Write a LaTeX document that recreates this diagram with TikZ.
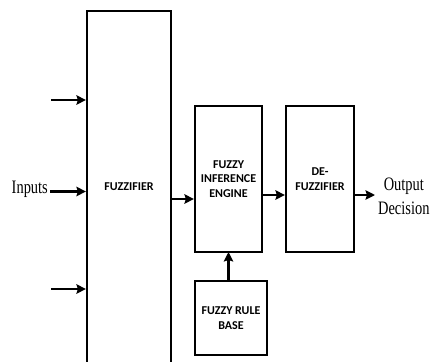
\documentclass[tikz,border=0pt]{standalone}
\usepackage{fontspec}
\setmainfont{Liberation Serif}
\newfontfamily\boxfont{Carlito}
\usetikzlibrary{arrows.meta}
\begin{document}
\begin{tikzpicture}[x=1pt,y=-1pt,
  blk/.style={draw, line width=2.2pt, inner sep=0pt, align=center,
    font=\boxfont\bfseries\fontsize{12}{14.5}\selectfont},
  arr/.style={line width=2.4pt, -{Stealth[length=9.5pt,width=9.5pt,inset=1.5pt]}},
  lbl/.style={font=\fontsize{19}{24}\selectfont, inner sep=0pt, xscale=0.76}]
\useasboundingbox (0,0) rectangle (430,361);
\node[blk, minimum width=84pt, minimum height=352pt] (fz) at (129,187) {FUZZIFIER};
\node[blk, minimum width=67pt, minimum height=146pt] (inf) at (228.5,179) {FUZZY\\INFERENCE\\ENGINE};
\node[blk, minimum width=68pt, minimum height=146pt] (def) at (320,179) {DE-\\FUZZIFIER};
\node[blk, minimum width=72pt, minimum height=74pt] (rb) at (231,318) {FUZZY RULE\\BASE};
\coordinate (i1) at (51,100);
\coordinate (i3) at (51,289);
\node[lbl, anchor=east] (in) at (48,189) {Inputs};
\coordinate (i2) at (50,191.5);
\draw[arr] (i1) -- (i1 -| fz.west);
\draw[arr] (i2) -- (i2 -| fz.west);
\draw[arr] (i3) -- (i3 -| fz.west);
\coordinate (f1) at (171,199);
\draw[arr] (f1) -- (f1 -| inf.west);
\coordinate (e1) at (262,195);
\draw[arr] (e1) -- (e1 -| def.west);
\node[lbl, align=center, anchor=west] (out) at (378,196) {Output\\Decision};
\coordinate (d1) at (354,195);
\draw[arr] (d1) -- (375,195);
\draw[arr] (rb.north -| 228.5,0) -- (228.5,252);
\end{tikzpicture}
\end{document}
